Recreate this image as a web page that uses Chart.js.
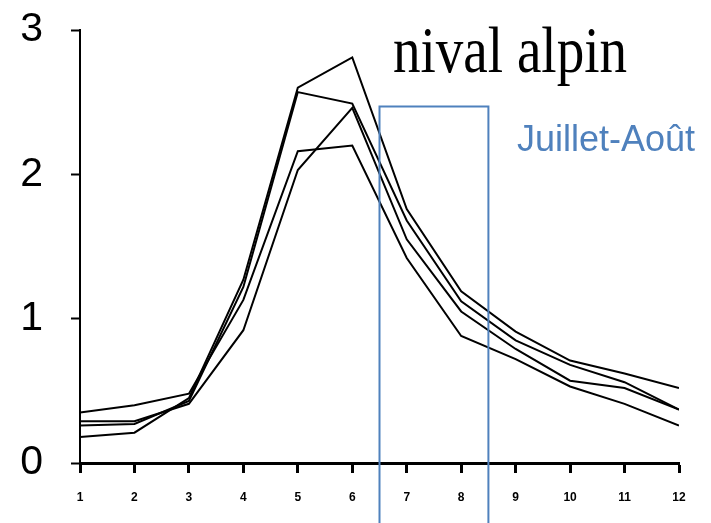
<!DOCTYPE html>
<html>
<head>
<meta charset="utf-8">
<script src="https://cdn.jsdelivr.net/npm/chart.js@4.4.1/dist/chart.umd.min.js"></script>
<style>
    html, body { margin: 0; padding: 0; background: #fff; }
    canvas { display: block; }
</style>
</head>
<body>
<canvas id="myChart" width="711" height="523"></canvas>
<script>
// months on the x axis
const months = [1, 2, 3, 4, 5, 6, 7, 8, 9, 10, 11, 12];
const yTicks = [0, 1, 2, 3];

// four regimes
const serieA = [0.18, 0.21, 0.45, 1.27, 2.60, 2.81, 1.76, 1.19, 0.91, 0.71, 0.62, 0.52];
const serieB = [0.26, 0.27, 0.43, 1.22, 2.57, 2.49, 1.68, 1.12, 0.85, 0.68, 0.56, 0.37];
const serieC = [0.35, 0.40, 0.48, 1.13, 2.16, 2.20, 1.42, 0.88, 0.72, 0.53, 0.41, 0.26];
const serieD = [0.29, 0.29, 0.41, 0.92, 2.03, 2.46, 1.55, 1.05, 0.79, 0.57, 0.52, 0.37];

// Juillet-Août box (month range and top value)
const boxFrom = 6.5;
const boxTo = 8.5;
const boxTop = 2.47;

const blue = '#4F81BD';

function toPoints(values) {
    return months.map(function (m, i) {
        return { x: m, y: values[i] };
    });
}

function lineSet(values) {
    return {
        data: toPoints(values),
        borderColor: '#000',
        borderWidth: 2,
        pointRadius: 0,
        tension: 0,
        fill: false,
    };
}

//draw box and texts on top
const overlay = {
    id: 'overlay',
    afterDraw: function (chart) {
        const ctx = chart.ctx;
        const xs = chart.scales.x;
        const ys = chart.scales.y;
        const x1 = xs.getPixelForValue(boxFrom);
        const x2 = xs.getPixelForValue(boxTo);
        const yt = ys.getPixelForValue(boxTop);
        const yb = chart.height + 5;

        ctx.save();
        ctx.strokeStyle = blue;
        ctx.lineWidth = 2;
        ctx.beginPath();
        ctx.moveTo(x1, yb);
        ctx.lineTo(x1, yt);
        ctx.lineTo(x2, yt);
        ctx.lineTo(x2, yb);
        ctx.stroke();

        ctx.fillStyle = blue;
        ctx.font = '36px "Liberation Sans", Arial, sans-serif';
        ctx.textBaseline = 'alphabetic';
        ctx.textAlign = 'left';
        ctx.fillText('Juillet-Août', 517, 151);

        // condensed serif title
        ctx.fillStyle = '#000';
        ctx.font = '65px "Liberation Serif", "Times New Roman", serif';
        const w = ctx.measureText('nival alpin').width;
        ctx.translate(393, 72);
        ctx.scale(234 / w, 1);
        ctx.fillText('nival alpin', 0, 0);
        ctx.restore();
    },
};

const config = {
    type: 'line',
    data: {
        datasets: [lineSet(serieA), lineSet(serieB), lineSet(serieC), lineSet(serieD)],
    },
    options: {
        responsive: false,
        animation: false,
        devicePixelRatio: 1,
        layout: {
            padding: { top: 30, right: 32, left: 0, bottom: 0 },
        },
        scales: {
            x: {
                type: 'linear',
                min: months[0],
                max: months[months.length - 1],
                afterFit: function (s) {
                    s.height = 60;
                    s.paddingLeft = 0;
                    s.paddingRight = 0;
                },
                ticks: {
                    stepSize: 1,
                    color: '#000',
                    padding: 17,
                    font: { family: 'Liberation Sans', size: 12, weight: 'bold' },
                },
                grid: {
                    drawOnChartArea: false,
                    tickLength: 10,
                    tickWidth: 3,
                    tickColor: '#000',
                },
                border: { color: '#000', width: 3 },
            },
            y: {
                min: yTicks[0],
                max: yTicks[yTicks.length - 1],
                afterFit: function (s) {
                    s.width = 80;
                    s.paddingTop = 0;
                    s.paddingBottom = 0;
                },
                ticks: {
                    stepSize: 1,
                    color: '#000',
                    padding: 28,
                    font: { family: 'Liberation Sans', size: 41 },
                },
                grid: {
                    drawOnChartArea: false,
                    tickLength: 9,
                    tickWidth: 2,
                    tickColor: '#000',
                },
                border: { color: '#000', width: 2 },
            },
        },
        plugins: {
            legend: { display: false },
            tooltip: { enabled: false },
        },
    },
    plugins: [overlay],
};

const myChart = new Chart(document.getElementById('myChart'), config);
</script>
</body>
</html>
